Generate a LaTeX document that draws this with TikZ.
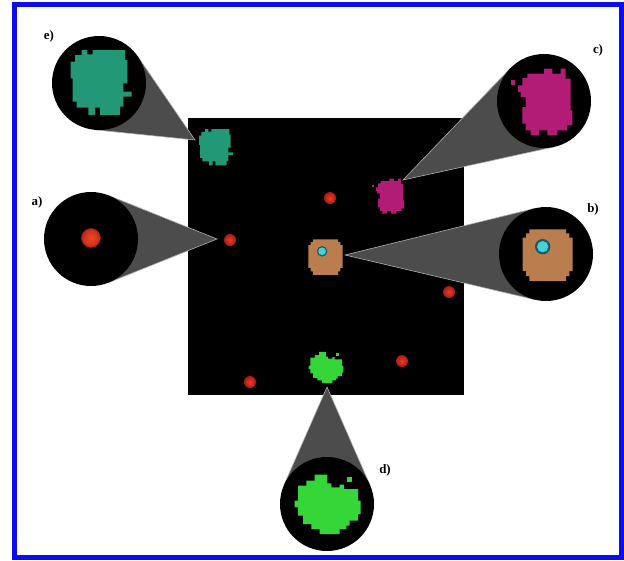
\documentclass[tikz,border=0pt]{standalone}
\usepackage{fontspec}
\setmainfont{Liberation Serif}
\usepackage{tikz}
\usetikzlibrary{calc}

\definecolor{frameblue}{RGB}{12,12,240}
\definecolor{tealcell}{RGB}{34,152,118}
\definecolor{plumcell}{RGB}{178,28,118}
\definecolor{greencell}{RGB}{52,214,56}
\definecolor{tancell}{RGB}{186,126,78}
\definecolor{cyancell}{RGB}{70,208,216}
\definecolor{cyanrim}{RGB}{24,88,96}
\definecolor{redcell}{RGB}{240,58,36}
\definecolor{redrim}{RGB}{165,28,18}
\definecolor{conegray}{RGB}{76,76,76}
\definecolor{rimgray}{RGB}{178,178,178}

% cell outlines, drawn in the pixel grid of the close-ups (3 units = 1 px)
\newcommand{\tealblob}{%
  \fill[tealcell] (62,80) -- (75,80) -- (75,60) -- (95,60) -- (95,45) -- (112,45) -- (112,58)
    -- (128,58) -- (128,45) -- (225,45) -- (225,75) -- (232,75) -- (232,145) -- (220,145)
    -- (220,170) -- (245,170) -- (245,185) -- (220,185) -- (220,215) -- (210,215) -- (210,240)
    -- (150,240) -- (150,218) -- (135,218) -- (135,240) -- (115,240) -- (115,218) -- (80,218)
    -- (80,200) -- (68,200) -- (68,130) -- (62,130) -- cycle;}
\newcommand{\plumblob}{%
  \fill[plumcell] (85,78) -- (100,78) -- (100,65) -- (150,65) -- (150,50) -- (175,50) -- (175,65)
    -- (200,65) -- (200,50) -- (215,50) -- (215,80) -- (230,80) -- (230,175) -- (235,175)
    -- (235,220) -- (220,220) -- (220,235) -- (190,235) -- (190,250) -- (160,250) -- (160,235)
    -- (135,235) -- (135,250) -- (110,250) -- (110,235) -- (95,235) -- (95,215) -- (85,215)
    -- (85,165) -- (95,165) -- (95,135) -- (80,135) -- (80,120) -- (72,120) -- (72,100)
    -- (85,100) -- cycle;
  \fill[plumcell] (50,85) rectangle (62,100);}
\newcommand{\tanblob}{%
  \fill[tancell] (100,70) -- (210,70) -- (210,82) -- (220,82) -- (220,95) -- (230,95) -- (230,195)
    -- (220,195) -- (220,210) -- (210,210) -- (210,225) -- (100,225) -- (100,210) -- (90,210)
    -- (90,195) -- (80,195) -- (80,95) -- (90,95) -- (90,82) -- (100,82) -- cycle;
  \fill[cyanrim] (140,122) circle[radius=23];
  \fill[cyancell] (140,122) circle[radius=17];}
\newcommand{\greenblob}{%
  \fill[greencell] (60,95) -- (85,95) -- (85,80) -- (110,80) -- (110,62) -- (148,62) -- (148,88)
    -- (160,88) -- (160,100) -- (185,100) -- (185,92) -- (198,92) -- (198,105) -- (240,105)
    -- (240,140) -- (248,140) -- (248,180) -- (240,180) -- (240,200) -- (215,200) -- (215,215)
    -- (205,215) -- (205,225) -- (185,225) -- (185,240) -- (125,240) -- (125,225) -- (100,225)
    -- (100,210) -- (75,210) -- (75,185) -- (60,185) -- (60,160) -- (50,160) -- (50,140)
    -- (60,140) -- cycle;
  \fill[greencell] (208,70) rectangle (222,84);}

\begin{document}
\begin{tikzpicture}[
    x=0.03cm, y=-0.03cm,
    reddot/.style={circle, inner sep=0pt, minimum size=0.36cm, shade, inner color=redcell, outer color=redrim},
    zoomspot/.style={circle, inner sep=0pt, outer sep=0pt, minimum size=2.82cm},
    cone/.style={fill=conegray},
    conerim/.style={draw=rimgray, line width=0.5pt},
    tag/.style={inner sep=0pt, font=\fontsize{11}{13}\selectfont\bfseries}
]
\useasboundingbox[fill=white] (0,0) rectangle (624,560);
\draw[frameblue, line width=0.15cm] (14.5,4.5) rectangle (621.5,557.5);

% the lattice
\fill[black] (188,118) rectangle (464,395);

\node[reddot] (dot1) at (330,198) {};
\node[reddot] (dot2) at (230,240) {};
\node[reddot] (dot3) at (449,292) {};
\node[reddot] (dot4) at (402,361) {};
\node[reddot] (dot5) at (250,382) {};

\begin{scope}[shift={(216,147)}, scale=0.186, shift={(-153,-141)}]
  \tealblob
\end{scope}
\begin{scope}[shift={(388,196)}, scale=0.175, shift={(-142,-150)}]
  \plumblob
\end{scope}
\begin{scope}[shift={(325.5,257)}, scale=0.228, shift={(-155,-147)}]
  \tanblob
\end{scope}
\begin{scope}[shift={(326,367)}, scale=0.175, shift={(-149,-148)}]
  \greenblob
\end{scope}

% close-up discs and the points they look at
\node[zoomspot] (zoomA) at (91,239) {};
\node[zoomspot] (zoomB) at (546,254) {};
\node[zoomspot] (zoomC) at (544,101) {};
\node[zoomspot] (zoomD) at (327,504) {};
\node[zoomspot] (zoomE) at (99,83) {};

\coordinate (apexA) at (217,239);
\coordinate (apexB) at (345,255);
\coordinate (apexC) at (403,180);
\coordinate (apexD) at (327,387);
\coordinate (apexE) at (195,140);

\foreach \z in {A,B,C,D,E}{
  \coordinate (sideL\z) at (tangent cs:node=zoom\z,point={(apex\z)},solution=1);
  \coordinate (sideR\z) at (tangent cs:node=zoom\z,point={(apex\z)},solution=2);
  \fill[cone] (apex\z) -- (sideL\z) -- (sideR\z) -- cycle;
  \draw[conerim] (sideL\z) -- (apex\z) -- (sideR\z);
  \fill[black] (zoom\z.center) circle[radius=1.41cm];
}

% what the discs show
\node[circle, inner sep=0pt, minimum size=0.56cm, draw=redrim, line width=0.8pt,
  shade, inner color=redcell!85!orange, outer color=redcell!80!black] (bigdot) at (91,238) {};
\begin{scope}[shift={(50,35)}, scale=1/3]
  \tealblob
\end{scope}
\begin{scope}[shift={(494,52)}, scale=1/3]
  \plumblob
\end{scope}
\begin{scope}[shift={(496,206)}, scale=1/3]
  \tanblob
\end{scope}
\begin{scope}[shift={(278,454)}, scale=1/3]
  \greenblob
\end{scope}

\node[tag] (labA) at (37,202) {a)};
\node[tag] (labB) at (593,209) {b)};
\node[tag] (labC) at (598,50) {c)};
\node[tag] (labD) at (385,470) {d)};
\node[tag] (labE) at (49,36) {e)};
\end{tikzpicture}
\end{document}
